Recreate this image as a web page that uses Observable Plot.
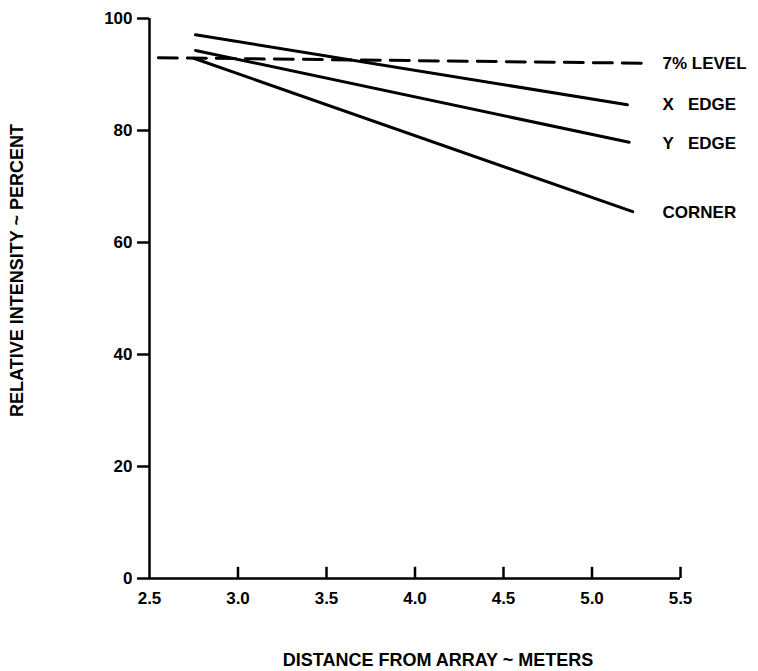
<!DOCTYPE html>
<html>
<head>
<meta charset="utf-8">
<script src="https://cdn.jsdelivr.net/npm/d3@7"></script>
<script src="https://cdn.jsdelivr.net/npm/@observablehq/plot@0.6"></script>
<style>
  html, body { margin: 0; padding: 0; background: #fff; }
</style>
</head>
<body>
<div id="chart"></div>
<script>
// Tick values
const xTicks = [2.5, 3.0, 3.5, 4.0, 4.5, 5.0, 5.5];
const yTicks = [0, 20, 40, 60, 80, 100];

// Series: [distance (m), relative intensity (%)]
const xEdge  = [[2.76, 97.1], [5.20, 84.6]];
const yEdge  = [[2.76, 94.3], [5.21, 77.9]];
const corner = [[2.75, 92.9], [5.23, 65.5]];
const level7 = [[2.55, 93.0], [5.33, 92.0]];

// Right-hand labels and the intensity at which each sits
const labelNames  = ["7% LEVEL", "X\u00A0\u00A0\u00A0EDGE", "Y\u00A0\u00A0\u00A0EDGE", "CORNER"];
const labelValues = [92.0, 84.6, 77.7, 65.4];

const xTitle = "DISTANCE FROM ARRAY ~ METERS";
const yTitle = "RELATIVE INTENSITY ~ PERCENT";

const labels = labelNames.map((name, i) => ({name, y: labelValues[i]}));
const X = d => d[0], Y = d => d[1];

const chart = Plot.plot({
  width: 758,
  height: 671,
  marginLeft: 149,
  marginRight: 78,
  marginTop: 18,
  marginBottom: 93,
  style: {
    fontFamily: "'Liberation Sans', Arial, Helvetica, sans-serif",
    fontSize: "17px",
    fontWeight: "bold",
    color: "#000",
    background: "#fff"
  },
  x: {domain: [2.5, 5.5], label: null},
  y: {domain: [0, 100], label: null},
  marks: [
    Plot.axisY({ticks: yTicks, tickSize: 12, tickPadding: 5, strokeWidth: 2.5, label: null}),
    Plot.axisX({ticks: xTicks, tickSize: 0, tickPadding: 13, tickFormat: d3.format(".1f"), label: null}),
    Plot.ruleX(xTicks.slice(1), {y1: 0, y2: 2, stroke: "#000", strokeWidth: 2.5}),
    Plot.ruleY([0], {stroke: "#000", strokeWidth: 2.5}),
    Plot.ruleX([2.5], {stroke: "#000", strokeWidth: 2.5}),
    Plot.line(level7, {x: X, y: Y, stroke: "#000", strokeWidth: 3, strokeDasharray: "19,10"}),
    Plot.line(xEdge, {x: X, y: Y, stroke: "#000", strokeWidth: 3}),
    Plot.line(yEdge, {x: X, y: Y, stroke: "#000", strokeWidth: 3}),
    Plot.line(corner, {x: X, y: Y, stroke: "#000", strokeWidth: 3}),
    Plot.text(labels, {frameAnchor: "right", y: "y", text: "name", textAnchor: "start", dx: -18, fill: "#000"}),
    Plot.text([xTitle], {frameAnchor: "bottom", text: d => d, textAnchor: "middle", lineAnchor: "middle", dx: 23, dy: 82, fontSize: 18, fill: "#000"}),
    Plot.text([yTitle], {frameAnchor: "left", text: d => d, rotate: -90, textAnchor: "middle", lineAnchor: "middle", dx: -132, dy: -28, fontSize: 18, fill: "#000"})
  ]
});

document.getElementById("chart").appendChild(chart);
</script>
</body>
</html>
